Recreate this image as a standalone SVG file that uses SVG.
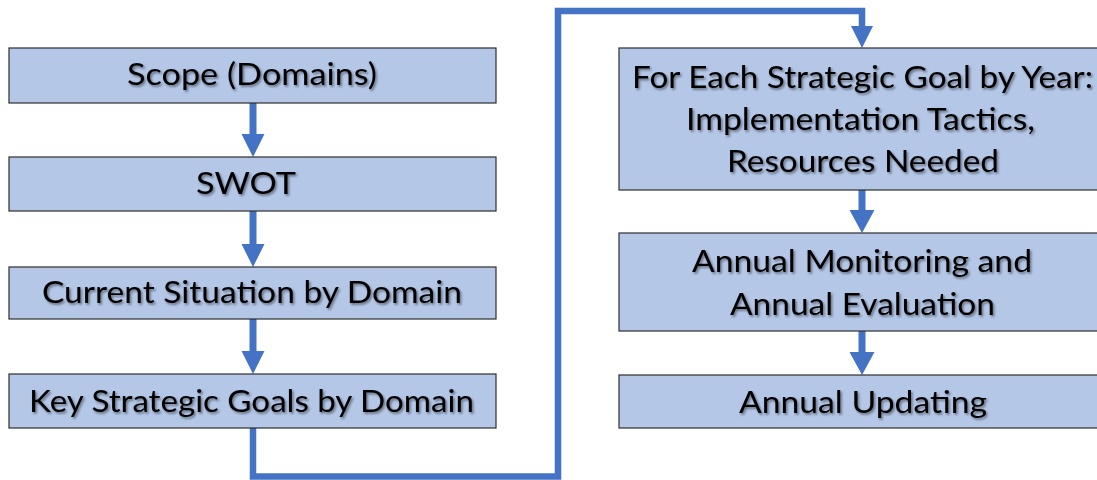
<svg xmlns="http://www.w3.org/2000/svg" width="1097" height="480" viewBox="0 0 1097 480">
  <defs>
    <filter id="sh" x="-10%" y="-30%" width="120%" height="160%">
      <feDropShadow dx="1.5" dy="1.8" stdDeviation="1.2" flood-color="#000" flood-opacity="0.45"/>
    </filter>
    <marker id="ah" viewBox="0 0 23 23" markerWidth="23" markerHeight="23" refX="11.5" refY="0" markerUnits="userSpaceOnUse" orient="auto-start-reverse">
      <polygon points="0,0 23,0 11.5,23" fill="#4472C4"/>
    </marker>
  </defs>
  <style>
    .box { fill: #B4C7E7; stroke: #2E2E2E; stroke-width: 1.2; }
    .t { font-family: "Lato", "Liberation Sans", sans-serif; font-size: 31px; fill: #000; text-anchor: middle; filter: url(#sh); }
    .ar { fill: #4472C4; }
    .ln { fill: none; stroke: #4472C4; stroke-width: 6.5; }
  </style>
  <rect width="1097" height="480" fill="#fff"/>

  <g id="connectors">
    <!-- left column arrows -->
    <polygon class="ar" points="249.5,103 256.5,103 256.5,134 264.5,134 253,157 241.5,134 249.5,134"/>
    <polygon class="ar" points="249.5,211 256.5,211 256.5,244 264.5,244 253,267 241.5,244 249.5,244"/>
    <polygon class="ar" points="249.5,319 256.5,319 256.5,351 264.5,351 253,374 241.5,351 249.5,351"/>
    <!-- long connector -->
    <polyline class="ln" points="253,428 253,476.5 558,476.5 558,11 862,11 862,27"/>
    <polygon class="ar" points="851,26 873,26 862,48"/>
    <!-- right column arrows -->
    <polygon class="ar" points="858.5,190 865.5,190 865.5,210 874.5,210 862,233 849.5,210 858.5,210"/>
    <polygon class="ar" points="858.5,331 865.5,331 865.5,352 874.5,352 862,375 849.5,352 858.5,352"/>
  </g>

  <g id="scope">
    <rect class="box" x="9" y="48" width="487" height="55"/>
    <text class="t" x="252" y="85" textLength="250" lengthAdjust="spacingAndGlyphs">Scope (Domains)</text>
  </g>
  <g id="swot">
    <rect class="box" x="9" y="157" width="487" height="54"/>
    <text class="t" x="246" y="194" textLength="100" lengthAdjust="spacingAndGlyphs">SWOT</text>
  </g>
  <g id="current">
    <rect class="box" x="9" y="267" width="487" height="52"/>
    <text class="t" x="252" y="303" textLength="420" lengthAdjust="spacingAndGlyphs">Current Situation by Domain</text>
  </g>
  <g id="keygoals">
    <rect class="box" x="9" y="374" width="487" height="54"/>
    <text class="t" x="251.5" y="412" textLength="445" lengthAdjust="spacingAndGlyphs">Key Strategic Goals by Domain</text>
  </g>

  <g id="tactics">
    <rect class="box" x="619" y="48" width="486" height="142"/>
    <text class="t" x="862.5" y="88" textLength="461" lengthAdjust="spacingAndGlyphs">For Each Strategic Goal by Year:</text>
    <text class="t" x="860.5" y="130" textLength="349" lengthAdjust="spacingAndGlyphs">Implementation Tactics,</text>
    <text class="t" x="863" y="172" textLength="272" lengthAdjust="spacingAndGlyphs">Resources Needed</text>
  </g>
  <g id="monitoring">
    <rect class="box" x="619" y="233" width="486" height="98"/>
    <text class="t" x="862" y="272" textLength="340" lengthAdjust="spacingAndGlyphs">Annual Monitoring and</text>
    <text class="t" x="862.5" y="315" textLength="265" lengthAdjust="spacingAndGlyphs">Annual Evaluation</text>
  </g>
  <g id="updating">
    <rect class="box" x="619" y="375" width="486" height="53"/>
    <text class="t" x="863" y="413" textLength="248" lengthAdjust="spacingAndGlyphs">Annual Updating</text>
  </g>
</svg>
